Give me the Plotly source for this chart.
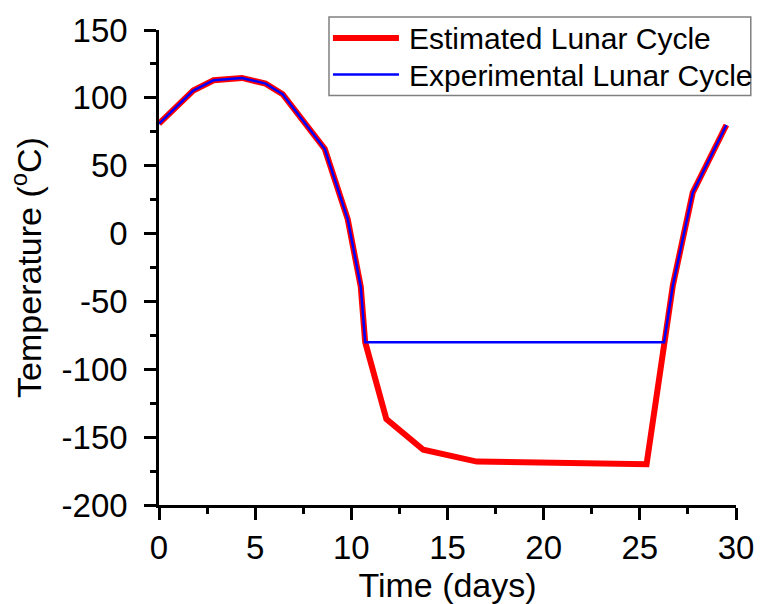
import plotly.graph_objects as go

# Data
est_x = [0, 1.78, 2.84, 4.31, 5.54, 6.43, 8.62, 9.81, 10.49, 10.72, 11.82, 13.74, 16.52, 25.35, 26.72, 27.75, 29.5]
est_y = [81, 105.4, 113, 114.7, 110.5, 102.7, 62.3, 10.7, -39.2, -80, -136.6, -159.3, -168, -170, -38, 30.2, 80]

exp_x = [0, 1.78, 2.84, 4.31, 5.54, 6.43, 8.62, 9.81, 10.49, 10.72, 26.26, 26.72, 27.75, 29.5]
exp_y = [81, 105.4, 113, 114.7, 110.5, 102.7, 62.3, 10.7, -39.2, -80, -80, -38, 30.2, 80]

names = ["Estimated Lunar Cycle", "Experimental Lunar Cycle"]
x_range = [0, 30]
y_range = [-200, 150]
y_ticks = [-200, -150, -100, -50, 0, 50, 100, 150]
y_ticktext = ["-200", "-150", "-100", "-50", "0", "50", "100", "150"]

FONT = "Liberation Sans, Arial, sans-serif"
W, H = 766, 604
L, R, T, B = 158.5, 744, 26, 505

fig = go.Figure()
fig.add_trace(go.Scatter(x=est_x, y=est_y, mode="lines", name=names[0],
                         line=dict(color="#ff0000", width=6), showlegend=False))
fig.add_trace(go.Scatter(x=exp_x, y=exp_y, mode="lines", name=names[1],
                         line=dict(color="#0000ff", width=2.5), showlegend=False))

axcommon = dict(showgrid=False, zeroline=False, showline=True, linecolor="black",
                linewidth=2.5, tickcolor="black", tickwidth=2.5, ticklen=12)

fig.update_layout(
    width=W, height=H,
    margin=dict(l=L, r=W - R, t=T, b=H - B),
    paper_bgcolor="white", plot_bgcolor="white",
    font=dict(family=FONT, size=33, color="black"),
    showlegend=False,
    xaxis=dict(range=x_range, dtick=5, ticks="outside",
               minor=dict(ticks="outside", ticklen=6, dtick=2.5, tickwidth=2.5, tickcolor="black"),
               title=dict(text="Time (days)", font=dict(size=34), standoff=2),
               tickfont=dict(size=33), **axcommon),
    xaxis2=dict(range=x_range, dtick=5, ticks="inside", overlaying="x", side="top",
                anchor="y", showticklabels=False,
                minor=dict(ticks="inside", ticklen=6, dtick=2.5, tickwidth=2.5, tickcolor="black"),
                **axcommon),
    yaxis=dict(range=y_range, tickmode="array", tickvals=y_ticks, ticktext=y_ticktext,
               ticks="outside",
               minor=dict(ticks="outside", ticklen=6, dtick=25, tickwidth=2.5, tickcolor="black"),
               title=dict(text="Temperature (<sup>o</sup>C)", font=dict(size=34), standoff=10),
               tickfont=dict(size=33), ticklabelstandoff=10, **axcommon),
    yaxis2=dict(range=y_range, dtick=50, ticks="inside", overlaying="y", side="right",
                anchor="x", showticklabels=False,
                minor=dict(ticks="inside", ticklen=6, dtick=25, tickwidth=2.5, tickcolor="black"),
                **axcommon),
)

def px_x(p):
    return (p - L) / (R - L)

def px_y(p):
    return (B - p) / (B - T)

# Custom legend (box, samples, labels)
fig.add_shape(type="rect", xref="paper", yref="paper",
              x0=px_x(331), x1=px_x(759), y0=px_y(92), y1=px_y(13),
              line=dict(color="#808080", width=1.5), fillcolor="white", layer="above")
legend_rows = [(34, "#ff0000", 6), (71, "#0000ff", 2.5)]
for (yy, col, wd), nm in zip(legend_rows, names):
    fig.add_shape(type="line", xref="paper", yref="paper",
                  x0=px_x(335), x1=px_x(402), y0=px_y(yy), y1=px_y(yy),
                  line=dict(color=col, width=wd), layer="above")
    fig.add_annotation(xref="paper", yref="paper", x=px_x(410), y=px_y(yy + 1),
                       xanchor="left", yanchor="middle", text=nm, showarrow=False,
                       font=dict(family=FONT, size=30, color="black"))

fig.write_html("out.html")
